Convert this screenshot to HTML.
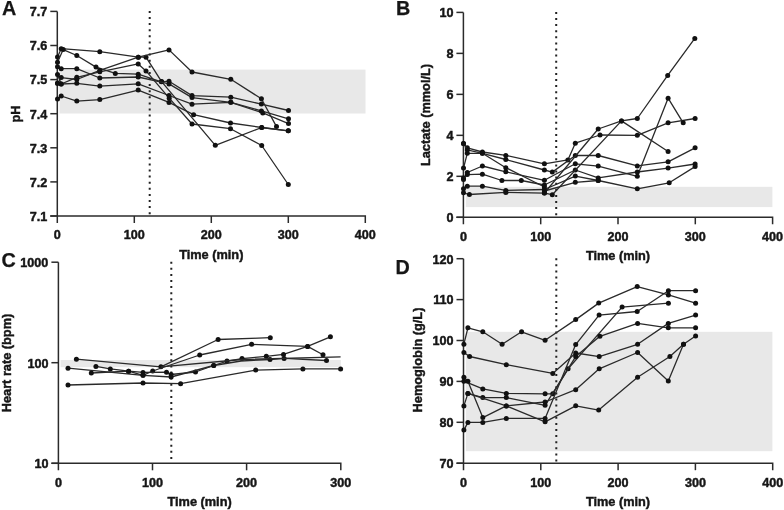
<!DOCTYPE html><html><head><meta charset="utf-8"><style>html,body{margin:0;padding:0;background:#fff;width:784px;height:510px;overflow:hidden}svg{display:block;filter:blur(0.35px)}</style></head><body><svg width="784" height="510" viewBox="0 0 784 510">
<style>text{font-family:"Liberation Sans",sans-serif;font-weight:bold;fill:#161616;stroke:#161616;stroke-width:0.45px}.ax{fill:none;stroke:#2b2b2b;stroke-width:1.5}.l{fill:none;stroke:#2a2a2a;stroke-width:1.3;stroke-linejoin:round}circle{fill:#111}</style>
<rect width="784" height="510" fill="#fff"/>
<rect x="59.5" y="69.6" width="306.0" height="43.900000000000006" fill="#e8e8e8"/>
<line x1="149.7" y1="10.9" x2="149.7" y2="216" stroke="#222" stroke-width="2" stroke-dasharray="2 4.1"/>
<path d="M57.3,11.4 V223 M50.3,216 H365.3 V223" class="ax"/>
<path d="M134.3,216 V223" class="ax"/>
<path d="M211.3,216 V223" class="ax"/>
<path d="M288.3,216 V223" class="ax"/>
<path d="M50.3,11.4 H57.3" class="ax"/>
<path d="M50.3,45.5 H57.3" class="ax"/>
<path d="M50.3,79.60000000000001 H57.3" class="ax"/>
<path d="M50.3,113.70000000000002 H57.3" class="ax"/>
<path d="M50.3,147.8 H57.3" class="ax"/>
<path d="M50.3,181.9 H57.3" class="ax"/>
<path d="M50.3,216.00000000000003 H57.3" class="ax"/>
<text x="57.3" y="239.3" text-anchor="middle" font-size="12.6">0</text>
<text x="134.3" y="239.3" text-anchor="middle" font-size="12.6">100</text>
<text x="211.3" y="239.3" text-anchor="middle" font-size="12.6">200</text>
<text x="288.3" y="239.3" text-anchor="middle" font-size="12.6">300</text>
<text x="365.3" y="239.3" text-anchor="middle" font-size="12.6">400</text>
<text x="47.3" y="16.25" text-anchor="end" font-size="12.6">7.7</text>
<text x="47.3" y="50.35" text-anchor="end" font-size="12.6">7.6</text>
<text x="47.3" y="84.45" text-anchor="end" font-size="12.6">7.5</text>
<text x="47.3" y="118.55000000000001" text-anchor="end" font-size="12.6">7.4</text>
<text x="47.3" y="152.65" text-anchor="end" font-size="12.6">7.3</text>
<text x="47.3" y="186.75" text-anchor="end" font-size="12.6">7.2</text>
<text x="47.3" y="220.85000000000002" text-anchor="end" font-size="12.6">7.1</text>
<text x="2" y="15.200000000000001" font-size="19.8" style="stroke-width:0.25px">A</text>
<text x="19.8" y="114" text-anchor="middle" font-size="12.75" transform="rotate(-90 19.8 114)">pH</text>
<text x="211.3" y="258.6" text-anchor="middle" font-size="12.75">Time (min)</text>
<rect x="465.8" y="186.8" width="306.59999999999997" height="20.299999999999983" fill="#e8e8e8"/>
<line x1="556.2" y1="11.9" x2="556.2" y2="217.3" stroke="#222" stroke-width="2" stroke-dasharray="2 4.1"/>
<path d="M463.4,12.4 V224.3 M456.4,217.3 H772.6 V224.3" class="ax"/>
<path d="M540.7,217.3 V224.3" class="ax"/>
<path d="M618,217.3 V224.3" class="ax"/>
<path d="M695.3,217.3 V224.3" class="ax"/>
<path d="M456.4,12.4 H463.4" class="ax"/>
<path d="M456.4,53.379999999999995 H463.4" class="ax"/>
<path d="M456.4,94.36 H463.4" class="ax"/>
<path d="M456.4,135.34 H463.4" class="ax"/>
<path d="M456.4,176.32 H463.4" class="ax"/>
<path d="M456.4,217.29999999999998 H463.4" class="ax"/>
<text x="463.4" y="240.60000000000002" text-anchor="middle" font-size="12.6">0</text>
<text x="540.7" y="240.60000000000002" text-anchor="middle" font-size="12.6">100</text>
<text x="618" y="240.60000000000002" text-anchor="middle" font-size="12.6">200</text>
<text x="695.3" y="240.60000000000002" text-anchor="middle" font-size="12.6">300</text>
<text x="772.6" y="240.60000000000002" text-anchor="middle" font-size="12.6">400</text>
<text x="453.4" y="17.25" text-anchor="end" font-size="12.6">10</text>
<text x="453.4" y="58.23" text-anchor="end" font-size="12.6">8</text>
<text x="453.4" y="99.21" text-anchor="end" font-size="12.6">6</text>
<text x="453.4" y="140.19" text-anchor="end" font-size="12.6">4</text>
<text x="453.4" y="181.17" text-anchor="end" font-size="12.6">2</text>
<text x="453.4" y="222.14999999999998" text-anchor="end" font-size="12.6">0</text>
<text x="396" y="15.200000000000001" font-size="19.8" style="stroke-width:0.25px">B</text>
<text x="429.5" y="115" text-anchor="middle" font-size="12.75" transform="rotate(-90 429.5 115)">Lactate (mmol/L)</text>
<text x="618" y="259.7" text-anchor="middle" font-size="12.75">Time (min)</text>
<rect x="60.6" y="360" width="280.2" height="7.199999999999989" fill="#e8e8e8"/>
<line x1="171.3" y1="261.7" x2="171.3" y2="463.3" stroke="#222" stroke-width="2" stroke-dasharray="2 4.1"/>
<path d="M58.4,262.2 V470.3 M51.4,463.3 H340.8 V470.3" class="ax"/>
<path d="M152.5,463.3 V470.3" class="ax"/>
<path d="M246.6,463.3 V470.3" class="ax"/>
<path d="M51.4,262.2 H58.4" class="ax"/>
<path d="M51.4,362.7 H58.4" class="ax"/>
<path d="M51.4,463.3 H58.4" class="ax"/>
<text x="58.4" y="486.6" text-anchor="middle" font-size="12.6">0</text>
<text x="152.5" y="486.6" text-anchor="middle" font-size="12.6">100</text>
<text x="246.6" y="486.6" text-anchor="middle" font-size="12.6">200</text>
<text x="340.8" y="486.6" text-anchor="middle" font-size="12.6">300</text>
<text x="48.4" y="266.95" text-anchor="end" font-size="12.6">1000</text>
<text x="48.4" y="367.55" text-anchor="end" font-size="12.6">100</text>
<text x="48.4" y="468.15000000000003" text-anchor="end" font-size="12.6">10</text>
<text x="1.6" y="266.5" font-size="19.8" style="stroke-width:0.25px">C</text>
<text x="11.2" y="363" text-anchor="middle" font-size="12.75" transform="rotate(-90 11.2 363)">Heart rate (bpm)</text>
<text x="199.6" y="505.5" text-anchor="middle" font-size="12.75">Time (min)</text>
<rect x="465.8" y="331.8" width="306.59999999999997" height="119.39999999999998" fill="#e8e8e8"/>
<line x1="556.3" y1="258.2" x2="556.3" y2="463.2" stroke="#222" stroke-width="2" stroke-dasharray="2 4.1"/>
<path d="M463.5,258.7 V470.2 M456.5,463.2 H772.7 V470.2" class="ax"/>
<path d="M540.8,463.2 V470.2" class="ax"/>
<path d="M618.1,463.2 V470.2" class="ax"/>
<path d="M695.4,463.2 V470.2" class="ax"/>
<path d="M456.5,258.7 H463.5" class="ax"/>
<path d="M456.5,299.59999999999997 H463.5" class="ax"/>
<path d="M456.5,340.5 H463.5" class="ax"/>
<path d="M456.5,381.4 H463.5" class="ax"/>
<path d="M456.5,422.29999999999995 H463.5" class="ax"/>
<path d="M456.5,463.2 H463.5" class="ax"/>
<text x="463.5" y="486.5" text-anchor="middle" font-size="12.6">0</text>
<text x="540.8" y="486.5" text-anchor="middle" font-size="12.6">100</text>
<text x="618.1" y="486.5" text-anchor="middle" font-size="12.6">200</text>
<text x="695.4" y="486.5" text-anchor="middle" font-size="12.6">300</text>
<text x="772.7" y="486.5" text-anchor="middle" font-size="12.6">400</text>
<text x="453.5" y="263.55" text-anchor="end" font-size="12.6">120</text>
<text x="453.5" y="304.45" text-anchor="end" font-size="12.6">110</text>
<text x="453.5" y="345.35" text-anchor="end" font-size="12.6">100</text>
<text x="453.5" y="386.25" text-anchor="end" font-size="12.6">90</text>
<text x="453.5" y="427.15" text-anchor="end" font-size="12.6">80</text>
<text x="453.5" y="468.05" text-anchor="end" font-size="12.6">70</text>
<text x="395.5" y="274.2" font-size="19.8" style="stroke-width:0.25px">D</text>
<text x="421.5" y="360" text-anchor="middle" font-size="12.75" transform="rotate(-90 421.5 360)">Hemoglobin (g/L)</text>
<text x="618" y="505.6" text-anchor="middle" font-size="12.75">Time (min)</text>
<polyline points="57.5,57.0 61.2,48.7 99.8,51.7 138.3,57.2 146.0,57.2 161.6,81.6 215.3,145.3 261.7,127.5 288.3,130.8" class="l"/>
<circle cx="57.5" cy="57.0" r="2.5"/>
<circle cx="61.2" cy="48.7" r="2.5"/>
<circle cx="99.8" cy="51.7" r="2.5"/>
<circle cx="138.3" cy="57.2" r="2.5"/>
<circle cx="146.0" cy="57.2" r="2.5"/>
<circle cx="161.6" cy="81.6" r="2.5"/>
<circle cx="215.3" cy="145.3" r="2.5"/>
<circle cx="261.7" cy="127.5" r="2.5"/>
<circle cx="288.3" cy="130.8" r="2.5"/>
<polyline points="57.5,62.3 63.2,49.6 76.8,55.5 96.0,67.1 115.3,73.4 138.2,74.2 161.4,81.8 169.0,81.2 192.0,95.6 230.8,97.2 261.4,104.1 288.5,110.5" class="l"/>
<circle cx="57.5" cy="62.3" r="2.5"/>
<circle cx="63.2" cy="49.6" r="2.5"/>
<circle cx="76.8" cy="55.5" r="2.5"/>
<circle cx="96.0" cy="67.1" r="2.5"/>
<circle cx="115.3" cy="73.4" r="2.5"/>
<circle cx="138.2" cy="74.2" r="2.5"/>
<circle cx="161.4" cy="81.8" r="2.5"/>
<circle cx="169.0" cy="81.2" r="2.5"/>
<circle cx="192.0" cy="95.6" r="2.5"/>
<circle cx="230.8" cy="97.2" r="2.5"/>
<circle cx="261.4" cy="104.1" r="2.5"/>
<circle cx="288.5" cy="110.5" r="2.5"/>
<polyline points="57.5,66.8 61.2,68.7 76.8,68.7 99.8,78.0 138.2,77.0 169.0,83.9 192.0,97.6 230.8,102.3 262.8,112.9 288.5,123.6" class="l"/>
<circle cx="57.5" cy="66.8" r="2.5"/>
<circle cx="61.2" cy="68.7" r="2.5"/>
<circle cx="76.8" cy="68.7" r="2.5"/>
<circle cx="99.8" cy="78.0" r="2.5"/>
<circle cx="138.2" cy="77.0" r="2.5"/>
<circle cx="169.0" cy="83.9" r="2.5"/>
<circle cx="192.0" cy="97.6" r="2.5"/>
<circle cx="230.8" cy="102.3" r="2.5"/>
<circle cx="262.8" cy="112.9" r="2.5"/>
<circle cx="288.5" cy="123.6" r="2.5"/>
<polyline points="57.5,83.3 61.2,77.6 76.8,79.5 99.8,70.3 138.3,57.2 169.0,49.9 192.0,72.0 230.8,79.3 261.4,98.8 276.5,126.6" class="l"/>
<circle cx="57.5" cy="83.3" r="2.5"/>
<circle cx="61.2" cy="77.6" r="2.5"/>
<circle cx="76.8" cy="79.5" r="2.5"/>
<circle cx="99.8" cy="70.3" r="2.5"/>
<circle cx="138.3" cy="57.2" r="2.5"/>
<circle cx="169.0" cy="49.9" r="2.5"/>
<circle cx="192.0" cy="72.0" r="2.5"/>
<circle cx="230.8" cy="79.3" r="2.5"/>
<circle cx="261.4" cy="98.8" r="2.5"/>
<circle cx="276.5" cy="126.6" r="2.5"/>
<polyline points="57.5,74.4 61.2,84.0 76.8,77.3 99.8,71.8 138.2,63.9 146.0,70.9 169.2,98.2 192.0,124.0 230.5,128.7 261.7,145.5 288.3,184.5" class="l"/>
<circle cx="57.5" cy="74.4" r="2.5"/>
<circle cx="61.2" cy="84.0" r="2.5"/>
<circle cx="76.8" cy="77.3" r="2.5"/>
<circle cx="99.8" cy="71.8" r="2.5"/>
<circle cx="138.2" cy="63.9" r="2.5"/>
<circle cx="146.0" cy="70.9" r="2.5"/>
<circle cx="169.2" cy="98.2" r="2.5"/>
<circle cx="192.0" cy="124.0" r="2.5"/>
<circle cx="230.5" cy="128.7" r="2.5"/>
<circle cx="261.7" cy="145.5" r="2.5"/>
<circle cx="288.3" cy="184.5" r="2.5"/>
<polyline points="57.5,83.3 61.2,84.0 76.8,83.3 99.8,86.1 138.2,83.8 169.0,95.5 192.0,104.2 230.8,102.3 261.4,110.9 288.5,118.8" class="l"/>
<circle cx="57.5" cy="83.3" r="2.5"/>
<circle cx="61.2" cy="84.0" r="2.5"/>
<circle cx="76.8" cy="83.3" r="2.5"/>
<circle cx="99.8" cy="86.1" r="2.5"/>
<circle cx="138.2" cy="83.8" r="2.5"/>
<circle cx="169.0" cy="95.5" r="2.5"/>
<circle cx="192.0" cy="104.2" r="2.5"/>
<circle cx="230.8" cy="102.3" r="2.5"/>
<circle cx="261.4" cy="110.9" r="2.5"/>
<circle cx="288.5" cy="118.8" r="2.5"/>
<polyline points="57.5,98.9 61.2,96.0 76.8,101.1 99.8,99.6 138.2,90.1 169.0,102.4 193.6,114.7 230.5,123.0 261.7,127.5 288.3,130.8" class="l"/>
<circle cx="57.5" cy="98.9" r="2.5"/>
<circle cx="61.2" cy="96.0" r="2.5"/>
<circle cx="76.8" cy="101.1" r="2.5"/>
<circle cx="99.8" cy="99.6" r="2.5"/>
<circle cx="138.2" cy="90.1" r="2.5"/>
<circle cx="169.0" cy="102.4" r="2.5"/>
<circle cx="193.6" cy="114.7" r="2.5"/>
<circle cx="230.5" cy="123.0" r="2.5"/>
<circle cx="261.7" cy="127.5" r="2.5"/>
<circle cx="288.3" cy="130.8" r="2.5"/>
<polyline points="463.5,143.4 467.3,147.8 482.4,152.0 505.8,155.4 544.4,163.8 567.9,159.9 575.3,143.2 600.0,135.0 637.3,135.3 668.1,122.8 695.1,118.5" class="l"/>
<circle cx="463.5" cy="143.4" r="2.5"/>
<circle cx="467.3" cy="147.8" r="2.5"/>
<circle cx="482.4" cy="152.0" r="2.5"/>
<circle cx="505.8" cy="155.4" r="2.5"/>
<circle cx="544.4" cy="163.8" r="2.5"/>
<circle cx="567.9" cy="159.9" r="2.5"/>
<circle cx="575.3" cy="143.2" r="2.5"/>
<circle cx="600.0" cy="135.0" r="2.5"/>
<circle cx="637.3" cy="135.3" r="2.5"/>
<circle cx="668.1" cy="122.8" r="2.5"/>
<circle cx="695.1" cy="118.5" r="2.5"/>
<polyline points="463.5,168.1 467.3,153.3 482.4,153.3 505.8,159.5 544.4,170.0 552.3,172.1 575.3,155.5 598.2,155.5 637.3,165.9 668.1,161.8 695.1,147.8" class="l"/>
<circle cx="463.5" cy="168.1" r="2.5"/>
<circle cx="467.3" cy="153.3" r="2.5"/>
<circle cx="482.4" cy="153.3" r="2.5"/>
<circle cx="505.8" cy="159.5" r="2.5"/>
<circle cx="544.4" cy="170.0" r="2.5"/>
<circle cx="552.3" cy="172.1" r="2.5"/>
<circle cx="575.3" cy="155.5" r="2.5"/>
<circle cx="598.2" cy="155.5" r="2.5"/>
<circle cx="637.3" cy="165.9" r="2.5"/>
<circle cx="668.1" cy="161.8" r="2.5"/>
<circle cx="695.1" cy="147.8" r="2.5"/>
<polyline points="463.5,143.4 467.3,149.9 482.4,153.3 505.8,167.7 544.4,187.0 544.4,193.0 598.2,129.0 621.5,120.9 637.3,118.5 667.7,75.4 694.8,38.4" class="l"/>
<circle cx="463.5" cy="143.4" r="2.5"/>
<circle cx="467.3" cy="149.9" r="2.5"/>
<circle cx="482.4" cy="153.3" r="2.5"/>
<circle cx="505.8" cy="167.7" r="2.5"/>
<circle cx="544.4" cy="187.0" r="2.5"/>
<circle cx="544.4" cy="193.0" r="2.5"/>
<circle cx="598.2" cy="129.0" r="2.5"/>
<circle cx="621.5" cy="120.9" r="2.5"/>
<circle cx="637.3" cy="118.5" r="2.5"/>
<circle cx="667.7" cy="75.4" r="2.5"/>
<circle cx="694.8" cy="38.4" r="2.5"/>
<polyline points="463.5,178.0 467.3,172.5 482.4,166.0 505.8,171.8 544.4,180.3 575.3,163.8 598.2,166.1 637.3,176.3 668.1,98.2 683.2,122.8" class="l"/>
<circle cx="463.5" cy="178.0" r="2.5"/>
<circle cx="467.3" cy="172.5" r="2.5"/>
<circle cx="482.4" cy="166.0" r="2.5"/>
<circle cx="505.8" cy="171.8" r="2.5"/>
<circle cx="544.4" cy="180.3" r="2.5"/>
<circle cx="575.3" cy="163.8" r="2.5"/>
<circle cx="598.2" cy="166.1" r="2.5"/>
<circle cx="637.3" cy="176.3" r="2.5"/>
<circle cx="668.1" cy="98.2" r="2.5"/>
<circle cx="683.2" cy="122.8" r="2.5"/>
<polyline points="463.5,179.4 467.3,174.6 482.4,174.2 501.9,180.5 521.3,180.5 544.4,185.0 575.3,170.0 598.2,177.9 637.3,172.0 668.1,168.1 695.1,164.0" class="l"/>
<circle cx="463.5" cy="179.4" r="2.5"/>
<circle cx="467.3" cy="174.6" r="2.5"/>
<circle cx="482.4" cy="174.2" r="2.5"/>
<circle cx="501.9" cy="180.5" r="2.5"/>
<circle cx="521.3" cy="180.5" r="2.5"/>
<circle cx="544.4" cy="185.0" r="2.5"/>
<circle cx="575.3" cy="170.0" r="2.5"/>
<circle cx="598.2" cy="177.9" r="2.5"/>
<circle cx="637.3" cy="172.0" r="2.5"/>
<circle cx="668.1" cy="168.1" r="2.5"/>
<circle cx="695.1" cy="164.0" r="2.5"/>
<polyline points="463.5,188.7 467.3,186.2 482.4,186.2 505.8,190.4 544.4,189.5 575.3,176.1 598.2,180.5 637.3,188.8 669.2,182.8 695.1,166.6" class="l"/>
<circle cx="463.5" cy="188.7" r="2.5"/>
<circle cx="467.3" cy="186.2" r="2.5"/>
<circle cx="482.4" cy="186.2" r="2.5"/>
<circle cx="505.8" cy="190.4" r="2.5"/>
<circle cx="544.4" cy="189.5" r="2.5"/>
<circle cx="575.3" cy="176.1" r="2.5"/>
<circle cx="598.2" cy="180.5" r="2.5"/>
<circle cx="637.3" cy="188.8" r="2.5"/>
<circle cx="669.2" cy="182.8" r="2.5"/>
<circle cx="695.1" cy="166.6" r="2.5"/>
<polyline points="463.5,192.8 469.4,194.5 505.8,192.4 544.4,193.1 552.3,194.7 621.5,120.9 668.1,151.5" class="l"/>
<circle cx="463.5" cy="192.8" r="2.5"/>
<circle cx="469.4" cy="194.5" r="2.5"/>
<circle cx="505.8" cy="192.4" r="2.5"/>
<circle cx="544.4" cy="193.1" r="2.5"/>
<circle cx="552.3" cy="194.7" r="2.5"/>
<circle cx="621.5" cy="120.9" r="2.5"/>
<circle cx="668.1" cy="151.5" r="2.5"/>
<polyline points="544.4,191.0 575.3,182.3 598.2,180.5" class="l"/>
<circle cx="544.4" cy="191.0" r="2.5"/>
<circle cx="575.3" cy="182.3" r="2.5"/>
<circle cx="598.2" cy="180.5" r="2.5"/>
<polyline points="76.4,359.2 160.9,366.8 218.1,339.5 270.3,337.7" class="l"/>
<circle cx="76.4" cy="359.2" r="2.5"/>
<circle cx="160.9" cy="366.8" r="2.5"/>
<circle cx="218.1" cy="339.5" r="2.5"/>
<circle cx="270.3" cy="337.7" r="2.5"/>
<polyline points="68.0,368.2 143.0,375.3 152.7,371.0 199.7,355.0 251.6,344.3 307.6,346.4 323.0,354.8" class="l"/>
<circle cx="68.0" cy="368.2" r="2.5"/>
<circle cx="143.0" cy="375.3" r="2.5"/>
<circle cx="152.7" cy="371.0" r="2.5"/>
<circle cx="199.7" cy="355.0" r="2.5"/>
<circle cx="251.6" cy="344.3" r="2.5"/>
<circle cx="307.6" cy="346.4" r="2.5"/>
<circle cx="323.0" cy="354.8" r="2.5"/>
<polyline points="95.9,366.4 110.3,368.9 128.6,371.2 143.0,372.4 166.5,372.2 171.1,374.5 195.5,372.0 213.7,365.5 227.0,361.1 242.0,358.6 266.3,356.3 283.5,354.4 307.6,346.4 330.4,336.8" class="l"/>
<circle cx="95.9" cy="366.4" r="2.5"/>
<circle cx="110.3" cy="368.9" r="2.5"/>
<circle cx="128.6" cy="371.2" r="2.5"/>
<circle cx="143.0" cy="372.4" r="2.5"/>
<circle cx="166.5" cy="372.2" r="2.5"/>
<circle cx="171.1" cy="374.5" r="2.5"/>
<circle cx="195.5" cy="372.0" r="2.5"/>
<circle cx="213.7" cy="365.5" r="2.5"/>
<circle cx="227.0" cy="361.1" r="2.5"/>
<circle cx="242.0" cy="358.6" r="2.5"/>
<circle cx="266.3" cy="356.3" r="2.5"/>
<circle cx="283.5" cy="354.4" r="2.5"/>
<circle cx="307.6" cy="346.4" r="2.5"/>
<circle cx="330.4" cy="336.8" r="2.5"/>
<polyline points="91.3,373.0 128.6,371.2 143.0,375.3 171.1,377.0 213.7,365.5 241.0,361.0 270.0,359.5 284.1,358.4 326.5,360.5" class="l"/>
<circle cx="91.3" cy="373.0" r="2.5"/>
<circle cx="128.6" cy="371.2" r="2.5"/>
<circle cx="143.0" cy="375.3" r="2.5"/>
<circle cx="171.1" cy="377.0" r="2.5"/>
<circle cx="213.7" cy="365.5" r="2.5"/>
<circle cx="270.0" cy="359.5" r="2.5"/>
<circle cx="284.1" cy="358.4" r="2.5"/>
<circle cx="326.5" cy="360.5" r="2.5"/>
<polyline points="68.0,385.0 143.0,383.0 180.6,383.7 255.7,370.1 302.9,368.9 340.6,368.9" class="l"/>
<circle cx="68.0" cy="385.0" r="2.5"/>
<circle cx="143.0" cy="383.0" r="2.5"/>
<circle cx="180.6" cy="383.7" r="2.5"/>
<circle cx="255.7" cy="370.1" r="2.5"/>
<circle cx="302.9" cy="368.9" r="2.5"/>
<circle cx="340.6" cy="368.9" r="2.5"/>
<polyline points="160.9,366.8 241.8,359.5 340.6,356.9" class="l"/>
<polyline points="463.9,344.2 467.9,327.8 482.8,331.8 502.1,344.2 521.6,331.8 545.1,340.3 575.7,319.6 598.7,303.1 637.2,286.6 668.4,294.9 695.6,303.2" class="l"/>
<circle cx="463.9" cy="344.2" r="2.5"/>
<circle cx="467.9" cy="327.8" r="2.5"/>
<circle cx="482.8" cy="331.8" r="2.5"/>
<circle cx="502.1" cy="344.2" r="2.5"/>
<circle cx="521.6" cy="331.8" r="2.5"/>
<circle cx="545.1" cy="340.3" r="2.5"/>
<circle cx="575.7" cy="319.6" r="2.5"/>
<circle cx="598.7" cy="303.1" r="2.5"/>
<circle cx="637.2" cy="286.6" r="2.5"/>
<circle cx="668.4" cy="294.9" r="2.5"/>
<circle cx="695.6" cy="303.2" r="2.5"/>
<polyline points="463.9,352.5 469.6,356.5 506.3,364.7 552.8,373.4 575.7,353.0 599.2,356.6 637.6,344.3 668.3,323.4 695.6,315.1" class="l"/>
<circle cx="463.9" cy="352.5" r="2.5"/>
<circle cx="469.6" cy="356.5" r="2.5"/>
<circle cx="506.3" cy="364.7" r="2.5"/>
<circle cx="552.8" cy="373.4" r="2.5"/>
<circle cx="575.7" cy="353.0" r="2.5"/>
<circle cx="599.2" cy="356.6" r="2.5"/>
<circle cx="637.6" cy="344.3" r="2.5"/>
<circle cx="668.3" cy="323.4" r="2.5"/>
<circle cx="695.6" cy="315.1" r="2.5"/>
<polyline points="463.9,381.2 482.8,388.9 506.3,393.4 545.1,393.8 552.8,393.8 568.1,368.8 622.1,307.1 668.4,303.2" class="l"/>
<circle cx="463.9" cy="381.2" r="2.5"/>
<circle cx="482.8" cy="388.9" r="2.5"/>
<circle cx="506.3" cy="393.4" r="2.5"/>
<circle cx="545.1" cy="393.8" r="2.5"/>
<circle cx="552.8" cy="393.8" r="2.5"/>
<circle cx="568.1" cy="368.8" r="2.5"/>
<circle cx="622.1" cy="307.1" r="2.5"/>
<circle cx="668.4" cy="303.2" r="2.5"/>
<polyline points="467.9,393.4 482.8,397.6 506.3,397.6 545.1,405.3 575.7,356.6 599.9,336.3 637.6,323.4 668.3,327.8 695.6,327.8" class="l"/>
<circle cx="467.9" cy="393.4" r="2.5"/>
<circle cx="482.8" cy="397.6" r="2.5"/>
<circle cx="506.3" cy="397.6" r="2.5"/>
<circle cx="545.1" cy="405.3" r="2.5"/>
<circle cx="575.7" cy="356.6" r="2.5"/>
<circle cx="599.9" cy="336.3" r="2.5"/>
<circle cx="637.6" cy="323.4" r="2.5"/>
<circle cx="668.3" cy="327.8" r="2.5"/>
<circle cx="695.6" cy="327.8" r="2.5"/>
<polyline points="463.9,377.2 467.9,381.2 482.8,417.6 506.3,405.9 545.1,402.0 575.7,389.7 599.2,368.8 637.6,352.5 668.3,381.1 683.5,344.3 695.6,336.0" class="l"/>
<circle cx="463.9" cy="377.2" r="2.5"/>
<circle cx="467.9" cy="381.2" r="2.5"/>
<circle cx="482.8" cy="417.6" r="2.5"/>
<circle cx="506.3" cy="405.9" r="2.5"/>
<circle cx="545.1" cy="402.0" r="2.5"/>
<circle cx="575.7" cy="389.7" r="2.5"/>
<circle cx="599.2" cy="368.8" r="2.5"/>
<circle cx="637.6" cy="352.5" r="2.5"/>
<circle cx="668.3" cy="381.1" r="2.5"/>
<circle cx="683.5" cy="344.3" r="2.5"/>
<circle cx="695.6" cy="336.0" r="2.5"/>
<polyline points="463.9,430.1 467.9,422.4 482.8,422.4 506.3,418.4 545.1,418.4 575.7,344.6 599.1,315.1 637.2,311.5 668.4,290.7 695.6,290.7" class="l"/>
<circle cx="463.9" cy="430.1" r="2.5"/>
<circle cx="467.9" cy="422.4" r="2.5"/>
<circle cx="482.8" cy="422.4" r="2.5"/>
<circle cx="506.3" cy="418.4" r="2.5"/>
<circle cx="545.1" cy="418.4" r="2.5"/>
<circle cx="575.7" cy="344.6" r="2.5"/>
<circle cx="599.1" cy="315.1" r="2.5"/>
<circle cx="637.2" cy="311.5" r="2.5"/>
<circle cx="668.4" cy="290.7" r="2.5"/>
<circle cx="695.6" cy="290.7" r="2.5"/>
<polyline points="463.9,405.9 467.9,393.4 506.3,405.9 545.1,421.8 575.7,405.8 598.7,410.1 637.6,377.2 669.9,356.5 683.5,344.3" class="l"/>
<circle cx="463.9" cy="405.9" r="2.5"/>
<circle cx="467.9" cy="393.4" r="2.5"/>
<circle cx="506.3" cy="405.9" r="2.5"/>
<circle cx="545.1" cy="421.8" r="2.5"/>
<circle cx="575.7" cy="405.8" r="2.5"/>
<circle cx="598.7" cy="410.1" r="2.5"/>
<circle cx="637.6" cy="377.2" r="2.5"/>
<circle cx="669.9" cy="356.5" r="2.5"/>
<circle cx="683.5" cy="344.3" r="2.5"/>
</svg></body></html>
